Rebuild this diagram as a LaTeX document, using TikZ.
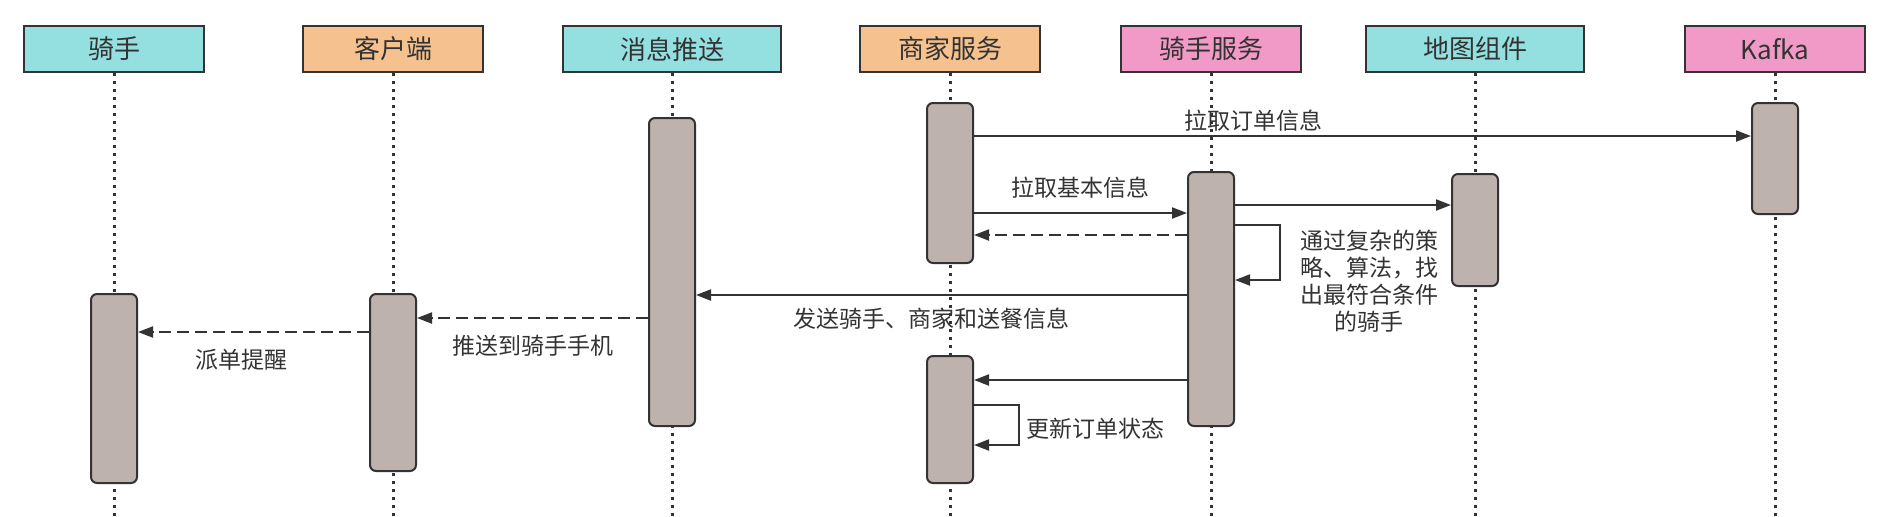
\documentclass[tikz,border=0pt]{standalone}
\usepackage{fontspec}
\setmainfont{Noto Sans CJK SC}
\usetikzlibrary{arrows.meta}

\definecolor{cyanbox}{HTML}{94DFE0}
\definecolor{orangebox}{HTML}{F5C28F}
\definecolor{pinkbox}{HTML}{F29AC7}
\definecolor{actfill}{HTML}{BDB2AD}
\definecolor{linegray}{HTML}{333333}

\tikzset{
  party/.style={draw=linegray, line width=1pt, minimum width=90pt, minimum height=23pt,
    inner sep=0pt, text=linegray, font=\fontsize{13}{15}\selectfont},
  wideparty/.style={party, minimum width=109pt},
  actbar/.style={draw=linegray, fill=actfill, line width=1pt, rounded corners=3pt,
    minimum width=23pt, inner sep=0pt, anchor=north},
  life/.style={draw=linegray, line width=1.5pt, dash pattern=on 1.5pt off 2.5pt},
  msg/.style={draw=linegray, line width=1pt, -{Triangle[length=7.5pt,width=5.5pt]}},
  ret/.style={msg, dash pattern=on 6pt off 3pt},
  lbl/.style={inner sep=0pt, text=linegray, font=\fontsize{11.5}{13.5}\selectfont},
}

\begin{document}
\begin{tikzpicture}[x=0.5pt,y=-0.5pt]
\useasboundingbox (0,0) rectangle (1888,516);

% participants
\node[party, fill=cyanbox] (rider) at (114,49) {骑手};
\node[party, fill=orangebox] (client) at (393,49) {客户端};
\node[wideparty, fill=cyanbox] (push) at (672,49) {消息推送};
\node[party, fill=orangebox] (biz) at (950,49) {商家服务};
\node[party, fill=pinkbox] (rs) at (1211,49) {骑手服务};
\node[wideparty, fill=cyanbox] (map) at (1475,49) {地图组件};
\node[party, fill=pinkbox] (kafka) at (1775,49) {Kafka};

% lifelines
\coordinate (bottom) at (0,516);
\foreach \p in {rider,client,push,biz,rs,map,kafka}{
  \draw[life] (\p.south) -- (\p.south |- bottom);
}

% activations
\node[actbar, minimum height=94.5pt] (rider1) at (114,293) {};
\node[actbar, minimum height=88.5pt] (client1) at (393,293) {};
\node[actbar, minimum height=154pt] (push1) at (672,117) {};
\node[actbar, minimum height=80pt] (biz1) at (950,102) {};
\node[actbar, minimum height=63.5pt] (biz2) at (950,355) {};
\node[actbar, minimum height=127pt] (rs1) at (1211,171) {};
\node[actbar, minimum height=56pt] (map1) at (1475,173) {};
\node[actbar, minimum height=55.5pt] (kafka1) at (1775,102) {};

% message heights
\coordinate (m1) at (0,136);
\coordinate (m2) at (0,205);
\coordinate (m3) at (0,213);
\coordinate (m4) at (0,225);
\coordinate (m5) at (0,235);
\coordinate (m6) at (0,280);
\coordinate (m7) at (0,295);
\coordinate (m8) at (0,318);
\coordinate (m9) at (0,332);
\coordinate (m10) at (0,380);
\coordinate (m11) at (0,405);
\coordinate (m12) at (0,445);

% messages
\draw[msg] (biz1.east |- m1) -- node[lbl, above=2pt, pos=0.36] {拉取订单信息} (kafka1.west |- m1);
\draw[msg] (biz1.east |- m3) -- node[lbl, above=7pt] {拉取基本信息} (rs1.west |- m3);
\draw[msg] (rs1.east |- m2) -- (map1.west |- m2);
\draw[ret] (rs1.west |- m5) -- (biz1.east |- m5);
\draw[msg] (rs1.east |- m4) -- ++(45,0) |- (rs1.east |- m6);
\node[lbl, align=center] (plan) at (1369,281) {通过复杂的策\\略、算法，找\\出最符合条件\\的骑手};
\draw[msg] (rs1.west |- m7) -- node[lbl, below=6pt, pos=0.52] {发送骑手、商家和送餐信息} (push1.east |- m7);
\draw[ret] (push1.west |- m8) -- node[lbl, below=8pt] {推送到骑手手机} (client1.east |- m8);
\draw[ret] (client1.west |- m9) -- node[lbl, below=8pt, pos=0.55] {派单提醒} (rider1.east |- m9);
\draw[msg] (rs1.west |- m10) -- (biz2.east |- m10);
\draw[msg] (biz2.east |- m11) -- ++(45,0) |- node[lbl, right=3pt, pos=0.3] {更新订单状态} (biz2.east |- m12);

\end{tikzpicture}
\end{document}
